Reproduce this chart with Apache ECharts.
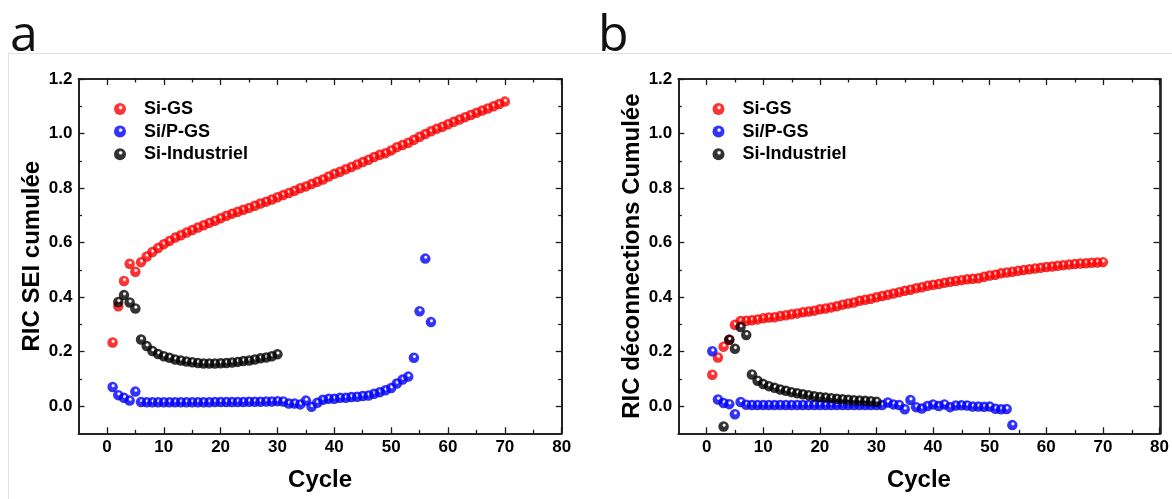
<!DOCTYPE html>
<html>
<head>
<meta charset="utf-8">
<script src="https://cdn.jsdelivr.net/npm/echarts@6/dist/echarts.min.js"></script>
<style>
html,body{margin:0;padding:0;background:#fff;}
#chart{width:1172px;height:499px;}
</style>
</head>
<body>
<div id="chart"></div>
<script>
// ---------- data ----------
const seriesNames = ['Si-GS', 'Si/P-GS', 'Si-Industriel'];

// Panel a : RIC SEI cumulée
const a_SiGS_start = 1;
const a_SiGS = [0.233,0.366,0.459,0.522,0.493,0.528,0.549,0.565,0.580,0.594,
  0.606,0.618,0.627,0.637,0.646,0.655,0.663,0.672,0.680,0.689,
  0.698,0.706,0.713,0.720,0.727,0.735,0.743,0.750,0.758,0.766,
  0.774,0.782,0.790,0.799,0.806,0.815,0.823,0.831,0.842,0.852,
  0.860,0.869,0.877,0.886,0.895,0.904,0.914,0.922,0.928,0.938,
  0.950,0.958,0.966,0.977,0.988,0.998,1.008,1.017,1.025,1.034,
  1.043,1.051,1.060,1.068,1.076,1.084,1.092,1.100,1.108,1.117];
const a_SiPGS_start = 1;
const a_SiPGS = [0.070,0.040,0.030,0.020,0.053, 0.015,0.014,0.014,0.014,0.014,
  0.014,0.014,0.014,0.014,0.014, 0.014,0.014,0.014,0.015,0.015,
  0.015,0.015,0.015,0.015,0.016, 0.016,0.016,0.017,0.017,0.018,
  0.017,0.009,0.009,0.006,0.020, -0.003,0.012,0.023,0.027,0.027,
  0.030,0.030,0.033,0.034,0.037, 0.039,0.045,0.051,0.058,0.066,
  0.083,0.097,0.108,0.177,0.348, 0.541,0.308];
const a_SiInd_start = 2;
const a_SiInd = [0.382,0.407,0.380,0.358,0.244,0.220,0.202,0.191,0.183,0.177,
  0.171,0.167,0.163,0.161,0.158,0.156,0.156,0.156,0.157,0.158,
  0.160,0.162,0.165,0.167,0.171,0.175,0.178,0.183,0.190];

// Panel b : RIC déconnections Cumulée
const b_SiGS_start = 1;
const b_SiGS = [0.115,0.178,0.218,0.243,0.298,0.312,0.313,0.315,0.318,0.322,
  0.325,0.326,0.330,0.333,0.337,0.340,0.344,0.347,0.350,0.355,
  0.358,0.362,0.366,0.372,0.376,0.380,0.386,0.390,0.394,0.399,
  0.404,0.408,0.413,0.418,0.423,0.427,0.432,0.436,0.441,0.445,
  0.448,0.452,0.456,0.459,0.462,0.465,0.467,0.469,0.474,0.479,
  0.482,0.487,0.490,0.493,0.496,0.499,0.502,0.505,0.507,0.510,
  0.512,0.515,0.517,0.519,0.521,0.523,0.524,0.526,0.527,0.528];
const b_SiPGS_start = 1;
const b_SiPGS = [0.201,0.024,0.011,0.007,-0.030, 0.015,0.005,0.004,0.004,0.004,
  0.004,0.004,0.004,0.004,0.004, 0.004,0.004,0.004,0.004,0.004,
  0.004,0.004,0.004,0.004,0.004, 0.004,0.004,0.004,0.004,0.004,
  0.004,0.013,0.006,0.004,-0.012, 0.022,-0.004,-0.009,0.000,0.006,
  0.000,0.006,-0.004,0.002,0.003, 0.002,-0.002,-0.002,-0.003,-0.002,
  -0.010,-0.012,-0.011,-0.070];
const b_SiInd_start = 3;
const b_SiInd = [-0.075,0.243,0.210,0.290,0.261,0.116,0.093,0.081,0.073,0.067,
  0.061,0.056,0.051,0.047,0.043,0.040,0.036,0.033,0.031,0.029,
  0.027,0.025,0.023,0.021,0.020,0.019,0.018,0.016];

// axes & ticks
const X_MIN = -5, X_MAX = 80;
const Y_MIN = -0.1, Y_MAX = 1.2;
const xMajorTicks = [0,10,20,30,40,50,60,70,80];
const xMinorTicks = [5,15,25,35,45,55,65,75];
const yMajorTicks = [0.0,0.2,0.4,0.6,0.8,1.0,1.2];
const yMinorTicks = [0.1,0.3,0.5,0.7,0.9,1.1];
const xName = 'Cycle';
const yNameA = 'RIC SEI cumulée';
const yNameB = 'RIC déconnections Cumulée';
const panelLabels = ['a', 'b'];

// ---------- helpers ----------
const FONT = '"Liberation Sans", Arial, sans-serif';
function pairs(start, vals){ return vals.map((v,i)=>[start+i, v]); }
function sphere(c, dark){
  return {type:'radial', x:0.55, y:0.38, r:0.6, colorStops:[
    {offset:0, color:'#ffffff'},{offset:0.13, color:'#ffffff'},
    {offset:0.33, color:c},{offset:0.85, color:c},{offset:1, color:dark}]};
}
const COLORS = [sphere('#ff0000','#c80000'), sphere('#0000ff','#0000b4'), sphere('#000000','#000000')];

const gridA = {left:78.5, right:610.3, top:79, bottom:65.7};
const gridB = {left:678.3, right:11.3, top:79, bottom:65.7};

const lineStyle = {color:'#1a1a1a', width:1.6};
function xAx(gi, pos, ticks, len, labels, name){
  const o = {type:'value', gridIndex:gi, position:pos, min:X_MIN, max:X_MAX,
    axisLine:{show:true, onZero:false, lineStyle:lineStyle},
    axisTick:{show:true, inside:true, length:len, customValues:ticks, lineStyle:{color:'#1a1a1a', width:1.3}},
    axisLabel:{show:labels, customValues:ticks, margin:6, fontFamily:FONT, fontWeight:'bold', fontSize:17, color:'#000'},
    splitLine:{show:false}};
  if(name){ o.name = name; o.nameLocation='middle'; o.nameGap=35;
    o.nameTextStyle={fontFamily:FONT, fontWeight:'bold', fontSize:24, color:'#000'}; }
  return o;
}
function yAx(gi, pos, ticks, len, labels, name){
  const o = {type:'value', gridIndex:gi, position:pos, min:Y_MIN, max:Y_MAX,
    axisLine:{show:true, onZero:false, lineStyle:lineStyle},
    axisTick:{show:true, inside:true, length:len, customValues:ticks, lineStyle:{color:'#1a1a1a', width:1.3}},
    axisLabel:{show:labels, customValues:ticks, margin:6, formatter:v=>v.toFixed(1), fontFamily:FONT, fontWeight:'bold', fontSize:17, color:'#000'},
    splitLine:{show:false}};
  if(name){ o.name = name; o.nameLocation='middle'; o.nameGap=34;
    o.nameTextStyle={fontFamily:FONT, fontWeight:'bold', fontSize:24, color:'#000'}; }
  return o;
}
function sc(name, xi, data, ci, z){
  return {type:'scatter', name:name, xAxisIndex:xi, yAxisIndex:xi, data:data, symbolSize:10.5,
    itemStyle:{color:COLORS[ci]}, z:z, emphasis:{disabled:true}};
}
function legend(left){
  return {orient:'vertical', left:left, top:95, itemWidth:12, itemHeight:12, itemGap:4.6, icon:'circle',
    data:seriesNames, selectedMode:false,
    textStyle:{fontFamily:FONT, fontWeight:'bold', fontSize:18, lineHeight:18, color:'#000', padding:[0,0,0,13]}};
}

const chart = echarts.init(document.getElementById('chart'), null, {renderer:'canvas'});
chart.setOption({
  animation:false,
  backgroundColor:'#fff',
  graphic:[
    {type:'line', shape:{x1:8, y1:53.5, x2:1172, y2:53.5}, style:{stroke:'#e2e2e2', lineWidth:1}, silent:true},
    {type:'line', shape:{x1:8.5, y1:53, x2:8.5, y2:499}, style:{stroke:'#e2e2e2', lineWidth:1}, silent:true}
  ],
  title:[
    {text:panelLabels[0], left:10, top:12, padding:0, textStyle:{fontFamily:'"Open Sans", sans-serif', fontSize:50, fontWeight:'normal', color:'#111'}},
    {text:panelLabels[1], left:598, top:12, padding:0, textStyle:{fontFamily:'"Open Sans", sans-serif', fontSize:50, fontWeight:'normal', color:'#111'}}
  ],
  legend:[legend(109), legend(707.5)],
  grid:[gridA, gridB, gridA, gridB],
  xAxis:[
    xAx(0,'bottom',xMajorTicks,6,true,xName),
    xAx(1,'bottom',xMajorTicks,6,true,xName),
    xAx(2,'bottom',xMinorTicks,3.5,false),
    xAx(3,'bottom',xMinorTicks,3.5,false),
    xAx(0,'top',xMajorTicks,6,false),
    xAx(1,'top',xMajorTicks,6,false),
    xAx(2,'top',xMinorTicks,3.5,false),
    xAx(3,'top',xMinorTicks,3.5,false)
  ],
  yAxis:[
    yAx(0,'left',yMajorTicks,6,true,yNameA),
    yAx(1,'left',yMajorTicks,6,true,yNameB),
    yAx(2,'left',yMinorTicks,3.5,false),
    yAx(3,'left',yMinorTicks,3.5,false),
    yAx(0,'right',yMajorTicks,6,false),
    yAx(1,'right',yMajorTicks,6,false),
    yAx(2,'right',yMinorTicks,3.5,false),
    yAx(3,'right',yMinorTicks,3.5,false)
  ],
  series:[
    sc(seriesNames[0],0,pairs(a_SiGS_start,a_SiGS),0,2),
    sc(seriesNames[1],0,pairs(a_SiPGS_start,a_SiPGS),1,3),
    sc(seriesNames[2],0,pairs(a_SiInd_start,a_SiInd),2,4),
    sc(seriesNames[0],1,pairs(b_SiGS_start,b_SiGS),0,2),
    sc(seriesNames[1],1,pairs(b_SiPGS_start,b_SiPGS),1,3),
    sc(seriesNames[2],1,pairs(b_SiInd_start,b_SiInd),2,4)
  ]
});
</script>
</body>
</html>
